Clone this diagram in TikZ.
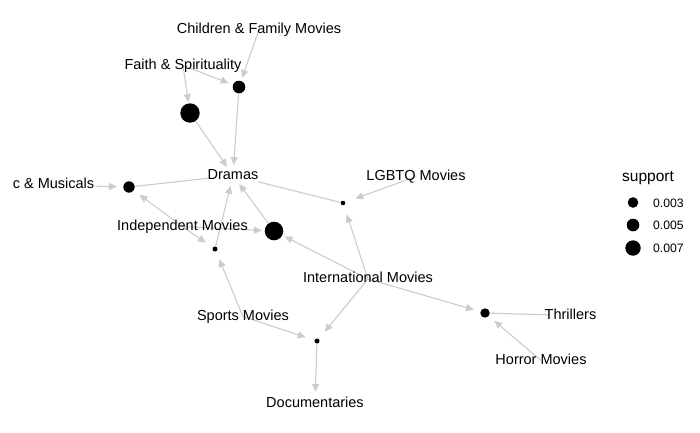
\documentclass[tikz,border=0pt]{standalone}
\usepackage{fontspec}
\setmainfont{Liberation Sans}
\usetikzlibrary{arrows.meta,backgrounds}
\definecolor{edgegray}{RGB}{204,204,204}
\begin{document}
\begin{tikzpicture}[x=1pt,y=-1pt,
  item/.style={font=\fontsize{14.5}{17}\selectfont, text height=0.72em, text depth=0pt, inner sep=0pt, yshift=-2.5pt},
  rulenode/.style={circle, fill=black, inner sep=0pt, minimum size=#1},
  edge/.style={draw=edgegray, line width=1.1pt, -{Triangle[length=8pt,width=7pt]}, shorten >=12pt},
  plain/.style={draw=edgegray, line width=1.1pt},
  legtext/.style={font=\fontsize{12.2}{14}\selectfont, text height=0.72em, text depth=0pt, inner sep=0pt, anchor=west, yshift=-1pt}]
\useasboundingbox (0,0) rectangle (700,432);
% item labels
\node[item] (child)  at (259,27)  {Children \& Family Movies};
\node[item] (faith)  at (183,63)  {Faith \& Spirituality};
\node[item] (dramas) at (233,173) {Dramas};
\node[item] (music)  at (53.5,182.5) {c \& Musicals};
\node[item] (indep)  at (182.5,224) {Independent Movies};
\node[item] (lgbtq)  at (416,174) {LGBTQ Movies};
\node[item] (intl)   at (368,276.5) {International Movies};
\node[item] (sports) at (243,314) {Sports Movies};
\node[item] (docs)   at (315,401.5) {Documentaries};
\node[item] (thrill) at (570.5,313) {Thrillers};
\node[item] (horror) at (541,358) {Horror Movies};
% rule nodes
\node[rulenode=12.6pt] (A) at (239,87)  {};
\node[rulenode=19.4pt] (B) at (190,113) {};
\node[rulenode=11.4pt] (C) at (129,187) {};
\node[rulenode=5pt]    (D) at (215,249) {};
\node[rulenode=18.6pt] (E) at (274,231) {};
\node[rulenode=4.6pt]  (F) at (343,203) {};
\node[rulenode=5pt]    (G) at (317,341) {};
\node[rulenode=9.4pt]  (H) at (485,313) {};
% legend
\node[font=\fontsize{15.5}{18}\selectfont, inner sep=0pt, anchor=base] (legtitle) at (648,181.5) {support};
\node[rulenode=10.6pt] (l1) at (633,202.5) {};
\node[rulenode=12.6pt] (l2) at (633,225) {};
\node[rulenode=15.4pt] (l3) at (633,248) {};
\node[legtext] (t1) at (653,202.5) {0.003};
\node[legtext] (t2) at (653,225) {0.005};
\node[legtext] (t3) at (653,248) {0.007};
% edges
\begin{scope}[on background layer]
\draw[edge, shorten >=9.5pt] (child.center) -- (A.center);
\draw[edge, shorten >=11pt] (faith.center) -- (A.center);
\draw[edge, shorten >=11pt] (faith.center) -- (B.center);
\draw[edge, shorten <=42pt] (music.center) -- (C.center);
\draw[edge, shorten >=13pt] (indep.center) -- (C.center);
\draw[edge, shorten >=11pt] (indep.center) -- (D.center);
\draw[edge] (indep.center) -- (E.center);
\draw[edge] (intl.center) -- (E.center);
\draw[edge, shorten >=13pt] (lgbtq.center) -- (F.center);
\draw[edge] (intl.center) -- (F.center);
\draw[edge] (intl.center) -- (G.center);
\draw[edge] (sports.center) -- (G.center);
\draw[edge, shorten >=11pt] (sports.center) -- (D.center);
\draw[edge, shorten >=11.5pt] (intl.center) -- (H.center);
\draw[edge] (horror.center) -- (H.center);
% rule -> rhs
\draw[edge, shorten >=10.5pt] (A) -- (dramas.center);
\draw[edge, shorten >=10.5pt] (B) -- (dramas.center);
\draw[edge, shorten >=10.5pt] (D) -- (dramas.center);
\draw[edge, shorten >=10.5pt] (E) -- (dramas.center);
\draw[plain, shorten >=25pt] (C) -- (dramas.center);
\draw[plain, shorten >=26pt] (F) -- (dramas.center);
\draw[edge, shorten >=12pt] (G) -- (docs.center);
\draw[plain, shorten >=20pt] (H) -- (thrill.center);
\end{scope}
\end{tikzpicture}
\end{document}
